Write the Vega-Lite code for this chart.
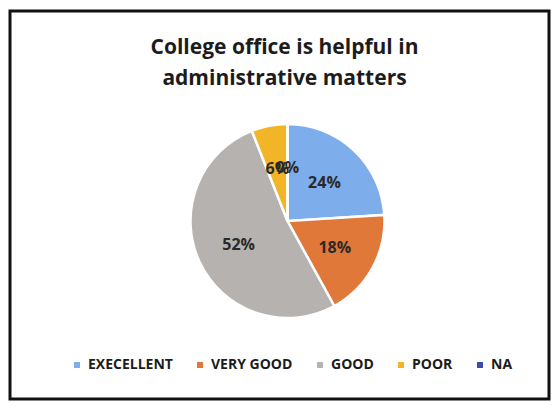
{
  "$schema": "https://vega.github.io/schema/vega-lite/v6.json",
  "autosize": "none",
  "width": 539,
  "height": 388,
  "padding": {"left": 10, "top": 11, "right": 4, "bottom": 6},
  "background": "white",
  "view": {"stroke": "#111111", "strokeWidth": 3},
  "config": {"view": {"stroke": "#111111", "strokeWidth": 3}},
  "title": {
    "text": ["College office is helpful in", "administrative matters"],
    "orient": "top",
    "anchor": "middle",
    "baseline": "top",
    "offset": -78,
    "dx": 5,
    "font": "Open Sans",
    "fontSize": 21,
    "fontWeight": "bold",
    "color": "#1c1c1c",
    "lineHeight": 31
  },
  "data": {
    "values": [
      {"category": "EXECELLENT", "value": 0.24, "rank": 1},
      {"category": "VERY GOOD", "value": 0.18, "rank": 2},
      {"category": "GOOD", "value": 0.52, "rank": 3},
      {"category": "POOR", "value": 0.06, "rank": 4},
      {"category": "NA", "value": 0.0, "rank": 5}
    ]
  },
  "encoding": {
    "theta": {"field": "value", "type": "quantitative", "stack": true},
    "order": {"field": "rank", "type": "ordinal"},
    "color": {
      "field": "category",
      "type": "nominal",
      "scale": {
        "domain": ["EXECELLENT", "VERY GOOD", "GOOD", "POOR", "NA"],
        "range": ["#7DADEA", "#E0783A", "#B6B2AF", "#F1B527", "#3F4BA8"]
      },
      "legend": {
        "title": null,
        "orient": "none",
        "legendX": 60,
        "legendY": 347,
        "direction": "horizontal",
        "symbolType": "square",
        "symbolSize": 36,
        "symbolStrokeWidth": 0,
        "labelFont": "Open Sans",
        "labelFontSize": 14,
        "labelFontWeight": "bold",
        "labelColor": "#1c1c1c",
        "labelOffset": 4,
        "columnPadding": 20
      }
    }
  },
  "layer": [
    {
      "mark": {"type": "arc", "outerRadius": 97, "stroke": "white", "strokeWidth": 2.5, "xOffset": 8, "yOffset": 16}
    },
    {
      "mark": {"type": "text", "radius": 54, "font": "Open Sans", "fontSize": 16, "fontWeight": "bold", "xOffset": 8, "yOffset": 17},
      "encoding": {
        "text": {"field": "value", "type": "quantitative", "format": ".0%"},
        "color": {"value": "#2a2a2a"}
      }
    }
  ]
}
